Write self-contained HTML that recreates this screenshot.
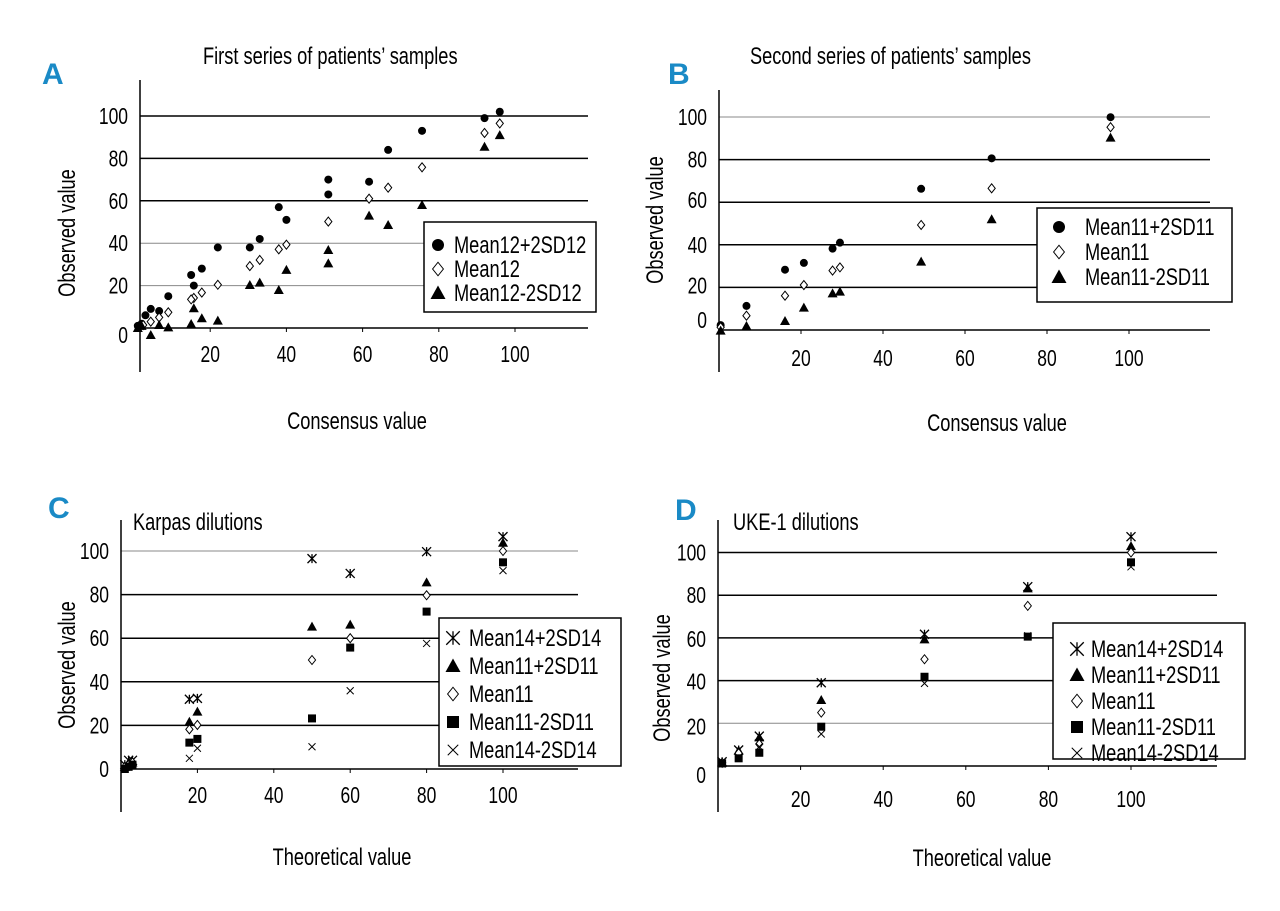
<!DOCTYPE html>
<html><head><meta charset="utf-8"><style>
body{margin:0;background:#fff;}
svg{display:block;font-family:"Liberation Sans",sans-serif;}
</style></head><body>
<svg id="fig" width="1280" height="911" viewBox="0 0 1280 911"></svg>
<script>
// ---- Panel A data (consensus, observed) ----
const aCircX=[96,92,75.6,66.7,61.7,51,51,38,40,33,30.4,22,17.8,15.7,15,9,6.6,4.4,3,2,1];
const aCircY=[102,99,93,84,69,70,63,57,51,42,38,38,28,20,25,15,8,9,6,2,1];
const aDiaX=[96,92,75.6,66.7,61.7,51,40,38,33,30.4,22,17.8,15.7,15,9,6.6,4.4,2.4];
const aDiaY=[96.5,92,75.8,66.2,61,50.2,39.3,37.1,32.1,29.2,20.4,16.7,14.2,13.5,7.4,5,3,1.4];
const aTriX=[96,92,75.6,66.7,61.7,51,51,40,38,33,30.4,22,17.8,15.7,15,9,6.6,4.4,2,1];
const aTriY=[91,85.5,58,48.6,53,36.8,30.5,27.4,17.9,21.4,20.3,3.5,4.6,9.3,1.9,0.3,1.4,-3.3,1,0];
// ---- Panel B data ----
const bX=[95.5,66.5,49.3,29.5,27.7,20.7,16.1,6.7,0.4];
const bCirc=[99.9,80.6,66.3,41,38.2,31.5,28.3,11.3,2.3];
const bDia=[95.2,66.5,49.3,29.4,27.9,21.1,16.1,6.7,1.3];
const bTri=[90.3,52,32.1,18,17.2,10.5,4.2,1.9,-0.3];
// ---- Panel C data ----
const cX=[100,80,60,50,17.9,20,1,2,3];
const cStar=[106.6,99.7,89.7,96.5,32,32.4,2,4,4];
const cTri=[103.8,85.6,66.2,65.3,21.7,26.3,1,3,3];
const cDia=[100,79.7,60,50,18.2,20.2,1,2,3];
const cSq=[94.8,72.2,55.7,23.2,12.1,13.8,0,1,2];
const cXm=[91,57.6,35.9,10.2,4.9,9.5,0,1,2];
// ---- Panel D data ----
const dX=[100,75,50,25,10,5,1];
const dStar=[107.4,84,61.7,39,14,7.5,2];
const dTri=[103,83.2,59.3,30.9,13.4,7.2,1.5];
const dDia=[100,75,50,25,10.3,6,1.5];
const dSq=[95.4,60.6,41.8,18.4,6.2,3.6,1.2];
const dXm=[93.3,61,38.7,15,9,4,1];
const yTicks=[0,20,40,60,80,100];
const xTicks=[20,40,60,80,100];

const NS="http://www.w3.org/2000/svg";
const svg=document.getElementById('fig');
const SX=0.76;
function el(tag,attrs,parent,text){const e=document.createElementNS(NS,tag);for(const k in attrs)e.setAttribute(k,attrs[k]);if(text!==undefined)e.textContent=text;(parent||svg).appendChild(e);return e;}
function txt(parent,x,y,size,anchor,str,rot){
  const tr=rot?`translate(${x} ${y}) rotate(${rot}) scale(${SX} 1)`:`translate(${x} ${y}) scale(${SX} 1)`;
  return el('text',{x:0,y:0,'font-size':size,'text-anchor':anchor,transform:tr},parent,str);
}

function marker(g,type,cx,cy,s){
  let m;
  if(type==='circle'){m=el('circle',{cx:cx,cy:cy,r:4*s,fill:'#000'},g);}
  else if(type==='diamond'){const r=4.5*s;m=el('polygon',{points:`${cx},${cy-r} ${cx+r*0.8},${cy} ${cx},${cy+r} ${cx-r*0.8},${cy}`,fill:'#fff',stroke:'#000','stroke-width':1},g);}
  else if(type==='tri'){const r=5*s;m=el('polygon',{points:`${cx},${cy-r} ${cx+r},${cy+r*0.8} ${cx-r},${cy+r*0.8}`,fill:'#000'},g);}
  else if(type==='square'){const r=4*s;m=el('rect',{x:cx-r,y:cy-r,width:2*r,height:2*r,fill:'#000'},g);}
  else if(type==='star'){const r=4.5*s;m=el('path',{d:`M${cx-r},${cy-r}L${cx+r},${cy+r}M${cx+r},${cy-r}L${cx-r},${cy+r}M${cx},${cy-r}L${cx},${cy+r}`,stroke:'#000','stroke-width':1.3},g);}
  else {const r=3.5*s;m=el('path',{d:`M${cx-r},${cy-r}L${cx+r},${cy+r}M${cx+r},${cy-r}L${cx-r},${cy+r}`,stroke:'#000','stroke-width':1},g);}
  return m;
}

function panel(p){
  const g=el('g',{});
  
  
  const X=v=>p.x0+p.kx*v, Y=v=>p.y0-p.ky*v;
  yTicks.forEach(t=>{
    if(t===0)return;
    const l=el('line',{x1:p.ax,x2:p.gx2,y1:Y(t),y2:Y(t),stroke:p.grayGrid.includes(t)?'#888':'#000','stroke-width':p.grayGrid.includes(t)?1:1.5},g);
    
    
  });
  const xa=el('line',{x1:p.ax,x2:p.gx2,y1:Y(0),y2:Y(0),stroke:'#000','stroke-width':1.5},g);
  
  
  const ya=el('line',{x1:p.ax,x2:p.ax,y1:p.yTop,y2:p.yBot,stroke:'#000','stroke-width':1.5},g);
  
  
  xTicks.forEach(t=>{
    el('line',{x1:X(t),x2:X(t),y1:Y(0),y2:Y(0)+4,stroke:'#000'},g);
    const tx=txt(g,X(t),p.xLabY,23,'middle',String(t));
    
    
  });
  yTicks.forEach((t,i)=>{
    const ty=txt(g,p.ax-12,Y(t)+8+p.yLabOff[i],23,'end',String(t));
    
    
  });
  p.series.forEach(s=>{
    const sg=el('g',{},g);
    
    
    s.ys.forEach((v,i)=>{
      const m=marker(sg,s.type,X(s.xs[i]),Y(v),s.size||1);
      
      
    });
  });
  const lg=el('g',{},g);
  
  
  el('rect',{x:p.lg[0],y:p.lg[1],width:p.lg[2],height:p.lg[3],fill:'#fff',stroke:'#000','stroke-width':1.5},lg);
  p.series.forEach((s,i)=>{
    const yy=p.lg[1]+p.lgTop+i*p.lgStep;
    marker(lg,s.type,p.lg[0]+p.lgMx,yy-8,1.5);
    const t=txt(lg,p.lg[0]+p.lgTx,yy,24,'start',s.label);
    
    
  });
  const yt=txt(g,p.yt[0],p.yt[1],24,'middle','Observed value',-90);
  
  
  const xt=txt(g,p.xt[0],p.xt[1],24,'middle',p.xTitle);
  
  
  const ti=txt(g,p.title[0],p.title[1],24,'start',p.titleText);
  
  
  const lt=el('text',{x:p.letter[0],y:p.letter[1],'font-size':30,'font-weight':'bold',fill:'#1a8ac6'},g,p.letterText);
  
  
}

panel({name:'panel-a',x0:134,kx:3.81,y0:328,ky:2.12,ax:140,gx2:588,yTop:80,yBot:372,xLabY:362,
  yLabOff:[7,0,0,0,0,0],grayGrid:[20,40],
  series:[{type:'circle',label:'Mean12+2SD12',xs:aCircX,ys:aCircY},{type:'diamond',label:'Mean12',xs:aDiaX,ys:aDiaY},{type:'tri',label:'Mean12-2SD12',xs:aTriX,ys:aTriY}],
  lg:[424,222,172,90],lgTop:31,lgStep:24,lgMx:14,lgTx:30,
  yt:[75,233],xt:[357,429],xTitle:'Consensus value',title:[203,64],titleText:'First series of patients\u2019 samples',letter:[42,84],letterText:'A'});
panel({name:'panel-b',x0:719,kx:4.1,y0:330,ky:2.13,ax:719,gx2:1210,yTop:90,yBot:372,xLabY:366,
  yLabOff:[-10,-2,0,-2,0,0],grayGrid:[100],
  series:[{type:'circle',label:'Mean11+2SD11',xs:bX,ys:bCirc},{type:'diamond',label:'Mean11',xs:bX,ys:bDia},{type:'tri',label:'Mean11-2SD11',xs:bX,ys:bTri}],
  lg:[1037,208,195,94],lgTop:27,lgStep:25,lgMx:22,lgTx:48,
  yt:[663,220],xt:[997,431],xTitle:'Consensus value',title:[750,64],titleText:'Second series of patients\u2019 samples',letter:[668,84],letterText:'B'});
panel({name:'panel-c',x0:121,kx:3.82,y0:769,ky:2.18,ax:121,gx2:578,yTop:520,yBot:812,xLabY:803,
  yLabOff:[0,0,0,0,0,0],grayGrid:[100],
  series:[{type:'star',label:'Mean14+2SD14',xs:cX,ys:cStar},{type:'tri',label:'Mean11+2SD11',xs:cX,ys:cTri},{type:'diamond',label:'Mean11',xs:cX,ys:cDia},{type:'square',label:'Mean11-2SD11',xs:cX,ys:cSq},{type:'x',label:'Mean14-2SD14',xs:cX,ys:cXm}],
  lg:[439,618,182,148],lgTop:28,lgStep:28,lgMx:14,lgTx:30,
  yt:[75,665],xt:[342,865],xTitle:'Theoretical value',title:[133,530],titleText:'Karpas dilutions',letter:[48,518],letterText:'C'});
panel({name:'panel-d',x0:718,kx:4.13,y0:766,ky:2.135,ax:718,gx2:1217,yTop:520,yBot:812,xLabY:807,
  yLabOff:[9,3,1,1,0,0],grayGrid:[20],
  series:[{type:'star',label:'Mean14+2SD14',xs:dX,ys:dStar},{type:'tri',label:'Mean11+2SD11',xs:dX,ys:dTri},{type:'diamond',label:'Mean11',xs:dX,ys:dDia},{type:'square',label:'Mean11-2SD11',xs:dX,ys:dSq},{type:'x',label:'Mean14-2SD14',xs:dX,ys:dXm}],
  lg:[1053,623,192,136],lgTop:34,lgStep:26,lgMx:24,lgTx:38,
  yt:[670,678],xt:[982,866],xTitle:'Theoretical value',title:[733,530],titleText:'UKE-1 dilutions',letter:[675,520],letterText:'D'});
</script>
</body></html>
